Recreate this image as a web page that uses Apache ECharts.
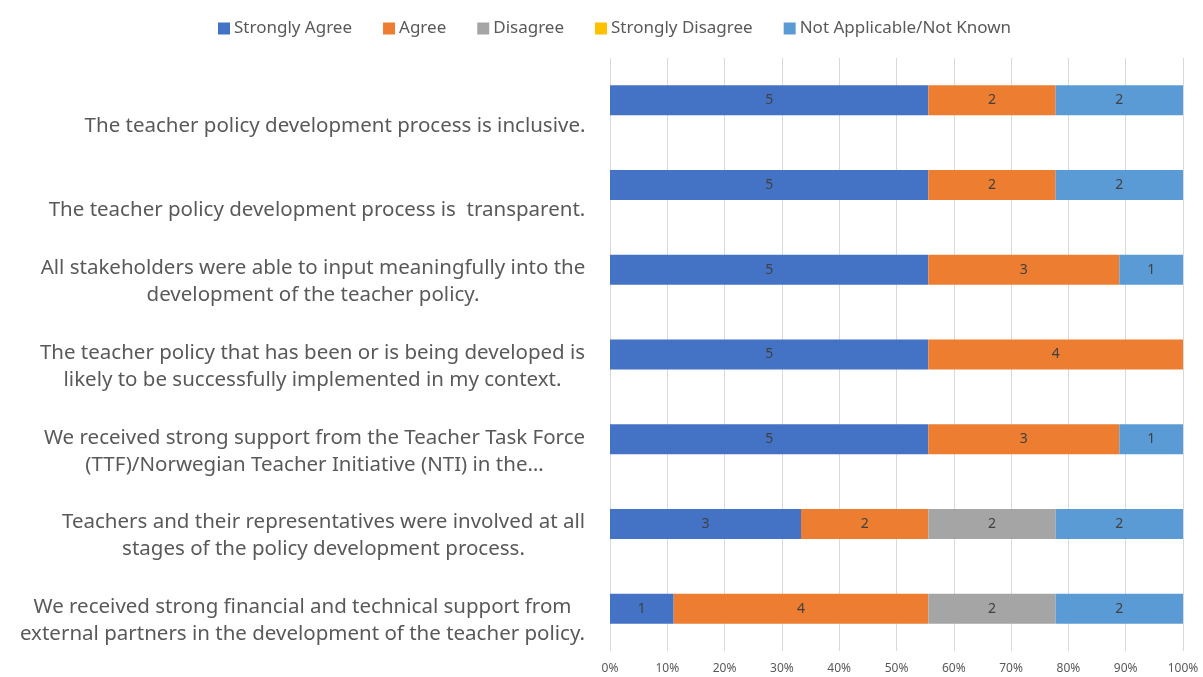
<!DOCTYPE html>
<html>
<head>
<meta charset="utf-8">
<script src="https://cdn.jsdelivr.net/npm/echarts@6/dist/echarts.min.js"></script>
<style>
html, body { margin: 0; padding: 0; background: #fff; }
#chart { width: 1203px; height: 677px; }
</style>
</head>
<body>
<div id="chart"></div>
<script>
// survey statements, top to bottom
var categories = [
	'The teacher policy development process is inclusive.',
	'The teacher policy development process is  transparent.',
	'All stakeholders were able to input meaningfully into the\ndevelopment of the teacher policy.',
	'The teacher policy that has been or is being developed is\nlikely to be successfully implemented in my context.',
	'We received strong support from the Teacher Task Force\n(TTF)/Norwegian Teacher Initiative (NTI) in the\u2026',
	'Teachers and their representatives were involved at all\nstages of the policy development process.',
	'We received strong financial and technical support from\nexternal partners in the development of the teacher policy.'
]
var seriesNames = ['Strongly Agree', 'Agree', 'Disagree', 'Strongly Disagree', 'Not Applicable/Not Known']
var stronglyAgree = [5, 5, 5, 5, 5, 3, 1]
var agree = [2, 2, 3, 4, 3, 2, 4]
var disagree = [0, 0, 0, 0, 0, 2, 2]
var stronglyDisagree = [0, 0, 0, 0, 0, 0, 0]
var notApplicable = [2, 2, 1, 0, 1, 2, 2]
var colors = ['#4472C4', '#ED7D31', '#A5A5A5', '#FFC000', '#5B9BD5']

var counts = [stronglyAgree, agree, disagree, stronglyDisagree, notApplicable]
var totals = categories.map(function (c, i) {
	return counts.reduce(function (s, arr) { return s + arr[i] }, 0)
})

var labelSize = 20.5
// measure lines so each label block is right aligned with centred lines
var ctx = document.createElement('canvas').getContext('2d')
ctx.font = labelSize + 'px "Noto Sans"'
var rich = { sp: { fontSize: labelSize, lineHeight: 27 } }
categories.forEach(function (c, i) {
	var w = 0
	c.split('\n').forEach(function (line) {
		w = Math.max(w, ctx.measureText(line).width)
	})
	rich['l' + i] = { width: Math.ceil(w) + 1, align: 'center', fontSize: labelSize, lineHeight: 27, color: '#595959', fontFamily: 'Noto Sans' }
})

var chart = echarts.init(document.getElementById('chart'))
chart.setOption({
	animation: false,
	textStyle: { fontFamily: 'Noto Sans' },
	legend: {
		top: 15,
		left: 213,
		itemWidth: 12,
		itemHeight: 12,
		itemGap: 31,
		icon: 'rect',
		textStyle: { fontSize: 17, color: '#595959', padding: [0, 0, 0, -1] },
		data: seriesNames
	},
	grid: { left: 610, right: 20, top: 58, bottom: 26, containLabel: false },
	xAxis: {
		type: 'value',
		min: 0,
		max: 100,
		interval: 10,
		axisLine: { show: false },
		axisTick: { show: false },
		splitLine: { show: true, lineStyle: { color: '#d9d9d9', width: 1 } },
		axisLabel: {
			color: '#595959',
			fontSize: 12,
			margin: 12,
			formatter: function (v) { return v + '%' }
		}
	},
	yAxis: {
		type: 'category',
		inverse: true,
		data: categories,
		axisLine: { show: false },
		axisTick: { show: false },
		axisLabel: {
			margin: 24,
			align: 'right',
			padding: [24, 0, 0, 0],
			rich: rich,
			formatter: function (value, idx) {
				var lines = value.split('\n')
				if (lines.length === 1) lines.unshift(null)
				return lines.map(function (l) {
					return l === null ? '{sp| }' : '{l' + idx + '|' + l + '}'
				}).join('\n')
			}
		}
	},
	series: seriesNames.map(function (name, k) {
		return {
			name: name,
			type: 'bar',
			stack: 'total',
			barWidth: 30,
			itemStyle: { color: colors[k] },
			label: {
				show: true,
				position: 'inside',
				color: '#404040',
				fontSize: 14,
				formatter: function (p) {
					var n = counts[k][p.dataIndex]
					return n > 0 ? String(n) : ''
				}
			},
			data: counts[k].map(function (n, i) { return n / totals[i] * 100 })
		}
	})
})
</script>
</body>
</html>
